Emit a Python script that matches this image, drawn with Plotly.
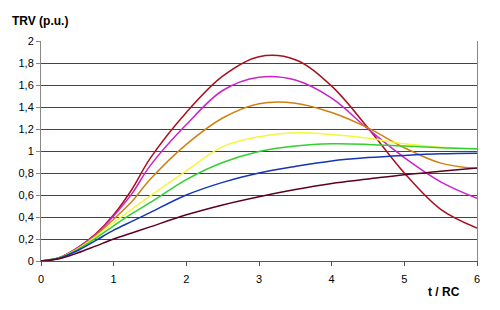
import plotly.graph_objects as go

t = [0, 0.25, 0.5, 0.75, 1, 1.25, 1.5, 2, 2.5, 3, 3.5, 4, 4.5, 5, 5.5, 6]
red = [0, 0.03, 0.12, 0.245, 0.42, 0.65, 0.93, 1.35, 1.68, 1.857, 1.83, 1.59, 1.21, 0.80, 0.47, 0.30]
magenta = [0, 0.03, 0.117, 0.24, 0.41, 0.61, 0.865, 1.24, 1.55, 1.67, 1.645, 1.48, 1.20, 0.94, 0.72, 0.57]
orange = [0, 0.029, 0.112, 0.23, 0.38, 0.54, 0.74, 1.06, 1.30, 1.43, 1.435, 1.35, 1.21, 1.03, 0.89, 0.84]
yellow = [0, 0.028, 0.108, 0.22, 0.35, 0.47, 0.59, 0.82, 1.04, 1.13, 1.165, 1.15, 1.115, 1.065, 1.035, 1.015]
green = [0, 0.027, 0.103, 0.205, 0.32, 0.43, 0.53, 0.74, 0.895, 0.995, 1.045, 1.065, 1.06, 1.045, 1.03, 1.02]
blue = [0, 0.025, 0.093, 0.185, 0.28, 0.36, 0.44, 0.60, 0.715, 0.80, 0.86, 0.91, 0.94, 0.96, 0.975, 0.98]
maroon = [0, 0.02, 0.072, 0.135, 0.20, 0.255, 0.31, 0.42, 0.51, 0.585, 0.65, 0.705, 0.745, 0.785, 0.815, 0.845]

series = [
    (red, "#A8101E"),
    (magenta, "#CC22CC"),
    (orange, "#D08010"),
    (yellow, "#F5F540"),
    (green, "#30D030"),
    (blue, "#1535B5"),
    (maroon, "#5E0020"),
]

x_ticks = [0, 1, 2, 3, 4, 5, 6]
x_labels = ["0", "1", "2", "3", "4", "5", "6"]
y_ticks = [0, 0.2, 0.4, 0.6, 0.8, 1, 1.2, 1.4, 1.6, 1.8, 2]
y_labels = ["0", "0,2", "0,4", "0,6", "0,8", "1", "1,2", "1,4", "1,6", "1,8", "2"]

fig = go.Figure()
for vals, col in series:
    fig.add_trace(go.Scatter(x=t, y=vals, mode="lines",
                             line=dict(color=col, width=1.5, shape="spline", smoothing=1.0),
                             showlegend=False, hoverinfo="skip"))

font = dict(family="Liberation Sans, Arial, sans-serif", size=11, color="#000")

fig.update_layout(
    width=500, height=310,
    margin=dict(l=41, r=23, t=41, b=49),
    paper_bgcolor="white", plot_bgcolor="white",
    font=font,
    xaxis=dict(range=[0, 6], tickvals=x_ticks, ticktext=x_labels,
               showgrid=False, zeroline=False,
               showline=True, linecolor="#555", linewidth=1,
               ticks="outside", ticklen=4, tickcolor="#555",
               ticklabelstandoff=4,
               tickfont=font),
    yaxis=dict(range=[0, 2], tickvals=y_ticks, ticktext=y_labels,
               showgrid=True, gridcolor="#444", gridwidth=1,
               zeroline=False,
               showline=True, linecolor="#888", linewidth=1, mirror=True,
               ticks="outside", ticklen=4, tickcolor="#888",
               tickfont=font),
    annotations=[
        dict(text="<b>TRV (p.u.)</b>", xref="paper", yref="paper",
             x=-0.072, y=1.09, xanchor="left", yanchor="middle",
             showarrow=False, font=dict(family="Liberation Sans, Arial, sans-serif", size=12)),
        dict(text="<b>t / RC</b>", xref="paper", yref="paper",
             x=0.965, y=-0.14, xanchor="right", yanchor="middle",
             showarrow=False, font=dict(family="Liberation Sans, Arial, sans-serif", size=12)),
    ],
)

fig.write_html("out.html")
